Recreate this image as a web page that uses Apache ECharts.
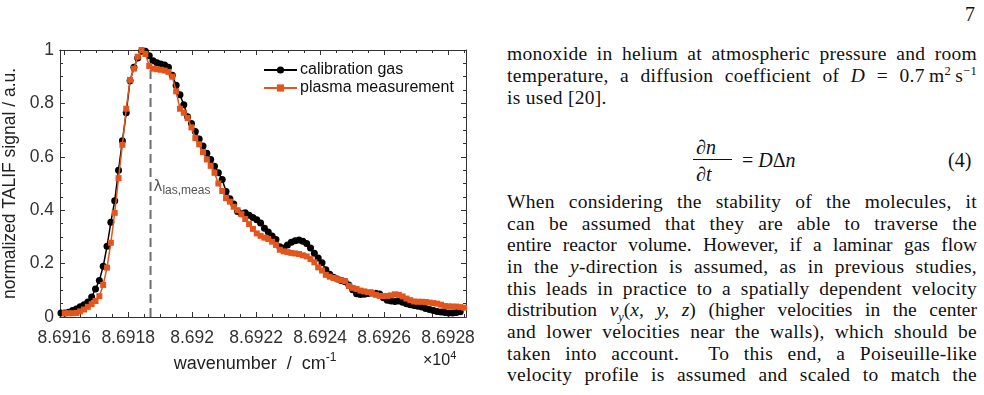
<!DOCTYPE html>
<html>
<head>
<meta charset="utf-8">
<title>TALIF spectrum</title>
<script src="https://cdn.jsdelivr.net/npm/echarts@6/dist/echarts.min.js"></script>
<style>
  html, body { margin: 0; padding: 0; background: #fff; }
  #page { position: relative; width: 984px; height: 395px; overflow: hidden; }
  #chart { position: absolute; left: 0; top: 0; width: 480px; height: 395px; }
  .tx {
    position: absolute; left: 507px; width: 470px; height: 22px;
    font-family: 'Liberation Serif', 'DejaVu Serif', serif; font-size: 19.5px; line-height: 22px;
    letter-spacing: 0.3px; white-space: nowrap;
    color: #111; text-align: justify; text-align-last: justify;
  }
  .tx.tight { letter-spacing: 0; }
  .tx.last { text-align: left; text-align-last: left; }
  .tx sup, .tx sub { font-size: 12.5px; line-height: 0; }
  .eq { position: absolute; font-family: 'Liberation Serif', 'DejaVu Serif', serif; font-size: 20px; color: #111; line-height: 22px; }
</style>
</head>
<body>
<div id="page">
  <div id="chart"></div>

  <div class="eq" style="left:965px; top:3px;">7</div>

  <div class="tx" style="top:43px;">monoxide in helium at atmospheric pressure and room</div>
  <div class="tx" style="top:65px;">temperature, a diffusion coefficient of <i>D</i> = 0.7&#8201;m<sup>2</sup>&#8201;s<sup>&minus;1</sup></div>
  <div class="tx last" style="top:87px;">is used [20].</div>

  <div class="eq" style="left:696px; top:136px;">&part;<i>n</i></div>
  <div style="position:absolute; left:693px; top:159px; width:39px; height:1px; background:#111;"></div>
  <div class="eq" style="left:696px; top:163px;">&part;<i>t</i></div>
  <div class="eq" style="left:742px; top:149px;">= <i>D</i>&Delta;<i>n</i></div>
  <div class="eq" style="left:948px; top:149px;">(4)</div>

  <div class="tx" style="top:191px;">When considering the stability of the molecules, it</div>
  <div class="tx" style="top:212.5px;">can be assumed that they are able to traverse the</div>
  <div class="tx tight" style="top:234px;">entire reactor volume. However, if a laminar gas flow</div>
  <div class="tx" style="top:256px;">in the <i>y</i>-direction is assumed, as in previous studies,</div>
  <div class="tx" style="top:277.5px;">this leads in practice to a spatially dependent velocity</div>
  <div class="tx tight" style="top:299px;">distribution <i>v<sub>y</sub></i>(<i>x, y, z</i>) (higher velocities in the center</div>
  <div class="tx" style="top:321px;">and lower velocities near the walls), which should be</div>
  <div class="tx" style="top:342.5px;">taken into account. &nbsp;To this end, a Poiseuille-like</div>
  <div class="tx" style="top:364px;">velocity profile is assumed and scaled to match the</div>
</div>

<script>
// wavenumber in units of 10^4 cm^-1 (sampling grid of the scan)
const wavenumber = [
  8.691590, 8.691602, 8.691614, 8.691626, 8.691638, 8.691650, 8.691662, 8.691674, 8.691686, 8.691698,
  8.691710, 8.691722, 8.691734, 8.691746, 8.691758, 8.691770, 8.691782, 8.691794, 8.691806, 8.691818,
  8.691830, 8.691842, 8.691854, 8.691866, 8.691878, 8.691890, 8.691902, 8.691914, 8.691926, 8.691938,
  8.691950, 8.691962, 8.691974, 8.691986, 8.691998, 8.692010, 8.692022, 8.692034, 8.692046, 8.692058,
  8.692070, 8.692082, 8.692094, 8.692106, 8.692118, 8.692130, 8.692142, 8.692154, 8.692166, 8.692178,
  8.692190, 8.692202, 8.692214, 8.692226, 8.692238, 8.692250, 8.692262, 8.692274, 8.692286, 8.692298,
  8.692310, 8.692322, 8.692334, 8.692346, 8.692358, 8.692370, 8.692382, 8.692394, 8.692406, 8.692418,
  8.692430, 8.692442, 8.692454, 8.692466, 8.692478, 8.692490, 8.692502, 8.692514, 8.692526, 8.692538,
  8.692550, 8.692562, 8.692574, 8.692586, 8.692598, 8.692610, 8.692622, 8.692634, 8.692646, 8.692658,
  8.692670, 8.692682, 8.692694, 8.692706, 8.692718, 8.692730, 8.692742, 8.692754, 8.692766, 8.692778,
  8.692790, 8.692802, 8.692814, 8.692826, 8.692838, 8.692850
]

const calibrationGas = [
  0.015, 0.015, 0.018, 0.024, 0.030, 0.038, 0.046, 0.056, 0.075, 0.105,
  0.137, 0.190, 0.265, 0.355, 0.435, 0.550, 0.660, 0.765, 0.885, 0.935,
  0.970, 0.995, 0.995, 0.978, 0.960, 0.952, 0.948, 0.944, 0.935, 0.905,
  0.868, 0.832, 0.795, 0.750, 0.725, 0.695, 0.667, 0.640, 0.613, 0.590,
  0.565, 0.540, 0.515, 0.470, 0.443, 0.423, 0.395, 0.387, 0.390, 0.381,
  0.373, 0.364, 0.352, 0.332, 0.318, 0.303, 0.290, 0.263, 0.258, 0.270,
  0.280, 0.286, 0.288, 0.284, 0.275, 0.258, 0.239, 0.221, 0.203, 0.177,
  0.160, 0.149, 0.142, 0.137, 0.132, 0.120, 0.102, 0.087, 0.084, 0.085,
  0.088, 0.090, 0.089, 0.086, 0.072, 0.063, 0.060, 0.058, 0.060, 0.055,
  0.050, 0.046, 0.043, 0.040, 0.037, 0.032, 0.028, 0.024, 0.021, 0.019,
  0.017, 0.015, 0.015, 0.017, 0.020, null
]

const plasmaMeasurement = [
  null, 0.014, 0.014, 0.014, 0.015, 0.021, 0.028, 0.038, 0.048, 0.060,
  0.078, 0.120, 0.185, 0.278, 0.390, 0.520, 0.645, 0.780, 0.888, 0.930,
  0.975, 1.000, 0.985, 0.940, 0.930, 0.928, 0.926, 0.923, 0.918, 0.900,
  0.845, 0.780, 0.765, 0.745, 0.710, 0.670, 0.647, 0.618, 0.590, 0.566,
  0.540, 0.500, 0.472, 0.445, 0.432, 0.413, 0.400, 0.385, 0.367, 0.348,
  0.330, 0.313, 0.304, 0.297, 0.292, 0.282, 0.270, 0.252, 0.246, 0.243,
  0.240, 0.238, 0.236, 0.231, 0.227, 0.217, 0.205, 0.186, 0.174, 0.158,
  0.151, 0.146, 0.142, 0.138, 0.134, 0.116, 0.109, 0.105, 0.099, 0.096,
  0.093, 0.090, 0.083, 0.079, 0.078, 0.079, 0.081, 0.085, 0.083, 0.077,
  0.069, 0.063, 0.058, 0.057, 0.057, 0.056, 0.054, 0.052, 0.050, 0.046,
  0.041, 0.040, 0.039, 0.039, 0.037, 0.035
]

const xTickValues = [8.6916, 8.6918, 8.692, 8.6922, 8.6924, 8.6926, 8.6928]
const xTickLabels = ['8.6916', '8.6918', '8.692', '8.6922', '8.6924', '8.6926', '8.6928']
const yTickLabels = ['0', '0.2', '0.4', '0.6', '0.8', '1']
const lambdaLas = 8.69187
const seriesNames = ['calibration gas', 'plasma measurement']

const xMin = 8.691587
const xMax = 8.692856
const yMin = 0
const yMax = 1
const axisColor = '#333'
const orange = '#e2551d'

let minorX = []
for (let k = 0; k <= 25; k++) {
  minorX.push(+(8.6916 + k * 0.00005).toFixed(5))
}

function pairs(ys) {
  let out = []
  for (let i = 0; i < wavenumber.length; i++) {
    if (ys[i] != null) out.push([wavenumber[i], ys[i]])
  }
  return out
}

function xAxisBase(position, ticks, len, withLabels) {
  return {
    type: 'value',
    position: position,
    min: xMin,
    max: xMax,
    splitLine: { show: false },
    axisLine: { show: true, onZero: false, lineStyle: { color: axisColor, width: 1 } },
    axisTick: {
      show: true,
      inside: true,
      length: len,
      customValues: ticks,
      lineStyle: { color: axisColor, width: 1 },
    },
    axisLabel: withLabels
      ? {
          show: true,
          customValues: xTickValues,
          margin: 12,
          fontFamily: 'Liberation Sans, Arial, sans-serif',
          fontSize: 17.5,
          color: '#333',
          formatter: function (v) {
            let idx = xTickValues.findIndex(t => Math.abs(t - v) < 1e-7)
            return idx >= 0 ? xTickLabels[idx] : ''
          },
        }
      : { show: false },
  }
}

function yAxisBase(position, withLabels) {
  return {
    type: 'value',
    position: position,
    min: yMin,
    max: yMax,
    interval: 0.2,
    splitLine: { show: false },
    axisLine: { show: true, onZero: false, lineStyle: { color: axisColor, width: 1 } },
    axisTick: { show: true, inside: true, length: 5, lineStyle: { color: axisColor, width: 1 } },
    minorTick: { show: true, splitNumber: 4, length: 3, lineStyle: { color: axisColor, width: 1 } },
    axisLabel: withLabels
      ? {
          show: true,
          margin: 6,
          fontFamily: 'Liberation Sans, Arial, sans-serif',
          fontSize: 17.5,
          color: '#333',
          formatter: function (v) {
            return yTickLabels[Math.round(v / 0.2)]
          },
        }
      : { show: false },
  }
}

const chart = echarts.init(document.getElementById('chart'), null, { renderer: 'canvas' })

let xBottom = xAxisBase('bottom', xTickValues, 5, true)
xBottom.name = '{a|wavenumber  /  cm}{b|-1}'
xBottom.nameLocation = 'middle'
xBottom.nameGap = 26
xBottom.nameTextStyle = {
  padding: [0, 16, 0, 0],
  rich: {
    a: { fontFamily: 'Liberation Sans, Arial, sans-serif', fontSize: 18, color: '#222' },
    b: { fontFamily: 'Liberation Sans, Arial, sans-serif', fontSize: 12, color: '#222', padding: [0, 0, 12, 0] },
  },
}

let yLeft = yAxisBase('left', true)
yLeft.name = 'normalized TALIF signal / a.u.'
yLeft.nameLocation = 'middle'
yLeft.nameGap = 31
yLeft.nameTextStyle = {
  fontFamily: 'Liberation Sans, Arial, sans-serif',
  fontSize: 17.5,
  color: '#222',
}

chart.setOption({
  animation: false,
  backgroundColor: '#fff',
  grid: { left: 60, top: 50, right: 14, bottom: 78, containLabel: false, outerBoundsMode: 'none' },
  legend: {
    orient: 'vertical',
    left: 258,
    top: 57,
    itemWidth: 33,
    itemHeight: 9,
    itemGap: 2,
    data: seriesNames,
    textStyle: { fontFamily: 'Liberation Sans, Arial, sans-serif', fontSize: 16, color: '#111', padding: [0, 0, 0, -2] },
  },
  xAxis: [
    xBottom,
    xAxisBase('bottom', minorX, 3, false),
    xAxisBase('top', xTickValues, 5, false),
    xAxisBase('top', minorX, 3, false),
  ],
  yAxis: [yLeft, yAxisBase('right', false)],
  series: [
    {
      // dashed marker of the laser wavenumber, spanning the full y range
      name: 'lambda',
      type: 'line',
      data: [[lambdaLas, yMin], [lambdaLas, yMax]],
      z: 1,
      silent: true,
      showSymbol: false,
      symbol: 'none',
      lineStyle: { color: '#6e6e6e', width: 2, type: [9, 5] },
    },
    {
      name: seriesNames[0],
      type: 'line',
      data: pairs(calibrationGas),
      z: 2,
      symbol: 'circle',
      symbolSize: 7,
      color: '#000',
      lineStyle: { color: '#000', width: 1.5 },
      itemStyle: { color: '#000' },
    },
    {
      name: seriesNames[1],
      type: 'line',
      data: pairs(plasmaMeasurement),
      z: 3,
      symbol: 'rect',
      symbolSize: 6,
      color: orange,
      lineStyle: { color: orange, width: 1.5 },
      itemStyle: { color: orange },
    },
  ],
})

// lambda label next to the dashed line, x10^4 multiplier under the axis end
let lp = chart.convertToPixel({ gridIndex: 0 }, [lambdaLas, 0.487])
chart.setOption({
  graphic: [
    {
      type: 'text',
      x: lp[0] + 3,
      y: lp[1] - 9,
      style: {
        text: '{a|λ}{b|las,meas}',
        rich: {
          a: { fontFamily: 'DejaVu Sans, sans-serif', fontSize: 15, fill: '#555' },
          b: { fontFamily: 'Liberation Sans, Arial, sans-serif', fontSize: 12, fill: '#555', padding: [7, 0, 0, 0] },
        },
      },
    },
    {
      type: 'text',
      x: 423,
      y: 350,
      style: {
        text: '{a|×10}{b|4}',
        rich: {
          a: { fontFamily: 'Liberation Sans, Arial, sans-serif', fontSize: 16, fill: '#222' },
          b: { fontFamily: 'Liberation Sans, Arial, sans-serif', fontSize: 11, fill: '#222', padding: [0, 0, 10, 0] },
        },
      },
    },
  ],
})
</script>
</body>
</html>
